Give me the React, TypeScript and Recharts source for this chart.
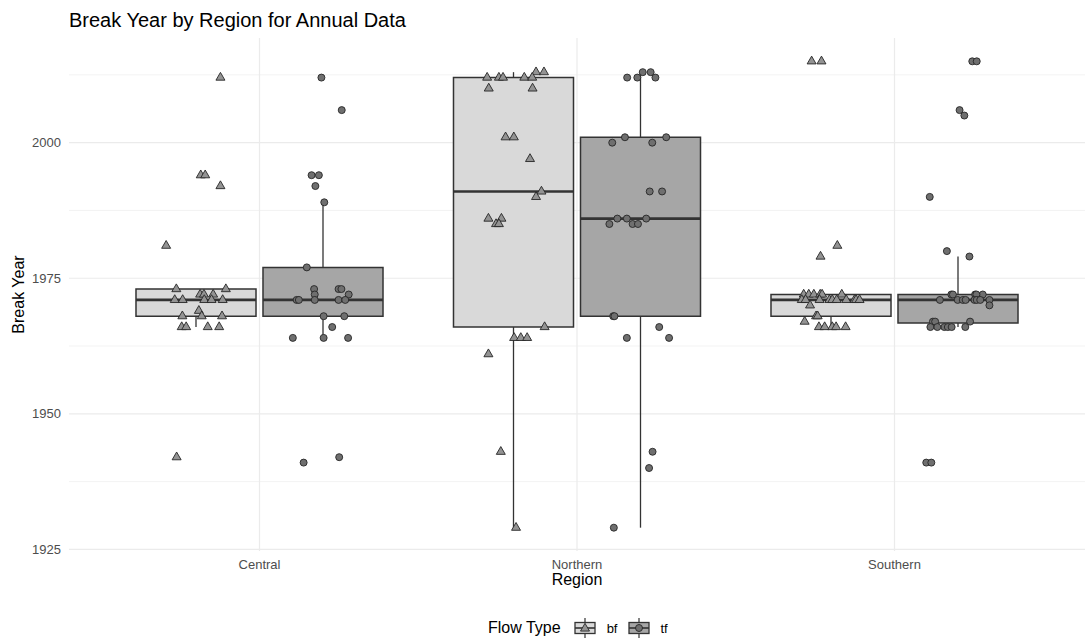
import React from "react"
import {
  ComposedChart,
  XAxis,
  YAxis,
  CartesianGrid,
  Scatter,
  ReferenceArea,
  ReferenceLine,
  Legend,
} from "recharts"

const FONT = "'Liberation Sans', Arial, Helvetica, sans-serif"

const regions = ["Central", "Northern", "Southern"]
const yTicks = [1925, 1950, 1975, 2000]
const yMinorTicks = [1937.5, 1962.5, 1987.5, 2012.5]

// break years per region / flow type, with the horizontal jitter
const centralBfYears = [2012, 1994, 1994, 1992, 1981, 1973, 1973, 1972, 1972, 1972, 1971, 1971, 1971, 1971, 1971, 1969, 1968, 1968, 1968, 1966, 1966, 1966, 1966, 1942]
const centralBfJitter = [0.077, 0.015, 0.029, 0.077, -0.094, -0.062, 0.094, 0.013, 0.025, 0.054, -0.067, -0.042, 0.026, 0.049, 0.084, 0.009, -0.043, 0.018, 0.082, -0.045, -0.031, 0.037, 0.073, -0.061]

const centralTfYears = [2012, 2006, 1994, 1994, 1992, 1989, 1977, 1973, 1973, 1973, 1972, 1972, 1971, 1971, 1971, 1971, 1971, 1968, 1968, 1966, 1964, 1964, 1964, 1942, 1941]
const centralTfJitter = [-0.005, 0.059, -0.036, -0.013, -0.024, 0.004, -0.051, -0.028, 0.049, 0.058, -0.026, 0.081, -0.083, -0.076, -0.026, 0.049, 0.07, 0.002, 0.067, 0.029, -0.095, 0.002, 0.079, 0.051, -0.061]

const northernBfYears = [2013, 2013, 2012, 2012, 2012, 2012, 2012, 2010, 2010, 2001, 2001, 1997, 1991, 1990, 1986, 1986, 1985, 1985, 1966, 1964, 1964, 1964, 1961, 1943, 1929]
const northernBfJitter = [0.071, 0.096, -0.083, -0.046, -0.033, 0.034, 0.059, -0.078, 0.06, -0.025, 0.001, 0.052, 0.088, 0.071, -0.079, -0.038, -0.055, -0.046, 0.098, 0.002, 0.023, 0.043, -0.079, -0.04, 0.008]

const northernTfYears = [2013, 2013, 2012, 2012, 2012, 2001, 2001, 2000, 2000, 1991, 1991, 1986, 1986, 1986, 1985, 1985, 1985, 1968, 1968, 1966, 1964, 1964, 1943, 1940, 1929]
const northernTfJitter = [0.007, 0.032, -0.042, -0.01, 0.047, -0.049, 0.081, -0.089, 0.037, 0.029, 0.068, -0.073, -0.043, 0.018, -0.098, -0.025, -0.008, -0.086, -0.082, 0.059, -0.043, 0.09, 0.038, 0.027, -0.084]

const southernBfYears = [2015, 2015, 1981, 1979, 1972, 1972, 1972, 1972, 1972, 1972, 1971, 1971, 1971, 1971, 1971, 1971, 1971, 1971, 1971, 1971, 1970, 1968, 1968, 1967, 1966, 1966, 1966, 1966, 1966]
const southernBfJitter = [-0.061, -0.03, 0.02, -0.033, -0.086, -0.07, -0.054, -0.034, -0.028, 0.034, -0.092, -0.08, -0.036, -0.005, 0.004, 0.018, 0.048, 0.074, 0.079, 0.09, -0.066, -0.047, -0.042, -0.083, -0.038, -0.02, 0.004, 0.016, 0.046]

const southernTfYears = [2015, 2015, 2006, 2005, 1990, 1980, 1979, 1972, 1972, 1972, 1972, 1972, 1971, 1971, 1971, 1971, 1971, 1971, 1971, 1971, 1970, 1967, 1967, 1967, 1966, 1966, 1966, 1966, 1966, 1966, 1941, 1941]
const southernTfJitter = [0.045, 0.059, 0.005, 0.02, -0.089, -0.035, 0.036, -0.021, -0.016, 0.054, 0.078, 0.058, -0.057, -0.001, 0.015, 0.052, 0.059, 0.07, 0.099, 0.024, 0.099, -0.079, -0.072, 0.038, -0.087, -0.043, -0.032, 0.023, -0.065, -0.02, -0.1, -0.084]

const BF_FILL = "#d9d9d9"
const TF_FILL = "#a6a6a6"
const EDGE = "#333333"
const DODGE = 0.2
const HALF_BOX = 0.189

const groups = [
  { region: 0, flow: "bf", years: centralBfYears, jitter: centralBfJitter },
  { region: 0, flow: "tf", years: centralTfYears, jitter: centralTfJitter },
  { region: 1, flow: "bf", years: northernBfYears, jitter: northernBfJitter },
  { region: 1, flow: "tf", years: northernTfYears, jitter: northernTfJitter },
  { region: 2, flow: "bf", years: southernBfYears, jitter: southernBfJitter },
  { region: 2, flow: "tf", years: southernTfYears, jitter: southernTfJitter },
]

function quantile(sorted: number[], p: number) {
  const pos = (sorted.length - 1) * p
  const lo = Math.floor(pos)
  const hi = Math.ceil(pos)
  return sorted[lo] + (sorted[hi] - sorted[lo]) * (pos - lo)
}

function boxStats(values: number[]) {
  const s = [...values].sort((a, b) => a - b)
  const q1 = quantile(s, 0.25)
  const med = quantile(s, 0.5)
  const q3 = quantile(s, 0.75)
  const iqr = q3 - q1
  const lo = Math.min(...s.filter((v) => v >= q1 - 1.5 * iqr))
  const hi = Math.max(...s.filter((v) => v <= q3 + 1.5 * iqr))
  return { q1, med, q3, lo, hi }
}

const center = (g: { region: number; flow: string }) => g.region + 1 + (g.flow === "bf" ? -DODGE : DODGE)

const points = (flow: string) =>
  groups
    .filter((g) => g.flow === flow)
    .flatMap((g) => g.years.map((y, i) => ({ x: center(g) + g.jitter[i], y })))

const bfPoints = points("bf")
const tfPoints = points("tf")

const allYears = groups.flatMap((g) => g.years)
const yMin = Math.min(...allYears)
const yMax = Math.max(...allYears)
const yPad = (yMax - yMin) * 0.05

const Triangle = (props: any) => {
  const { cx, cy } = props
  return (
    <polygon
      points={`${cx},${cy - 5.2} ${cx - 4.5},${cy + 2.6} ${cx + 4.5},${cy + 2.6}`}
      fill="#939393"
      stroke="#262626"
      strokeWidth={0.9}
      strokeLinejoin="round"
    />
  )
}

const Dot = (props: any) => {
  const { cx, cy } = props
  return <circle cx={cx} cy={cy} r={3.5} fill="#6f6f6f" stroke="#262626" strokeWidth={0.9} />
}

function KeyGlyph({ fill, flow }: { fill: string; flow: string }) {
  return (
    <svg width={22} height={22} style={{ display: "block" }}>
      <line x1={11} x2={11} y1={1} y2={21} stroke={EDGE} strokeWidth={1.2} />
      <rect x={1} y={5.5} width={20} height={11} fill={fill} stroke={EDGE} strokeWidth={1.3} />
      <line x1={1} x2={21} y1={11} y2={11} stroke={EDGE} strokeWidth={1.6} />
      {flow === "bf" ? <Triangle cx={11} cy={11.5} /> : <Dot cx={11} cy={11} />}
    </svg>
  )
}

function LegendContent() {
  return (
    <div
      style={{
        height: 30,
        display: "flex",
        alignItems: "center",
        paddingLeft: 488,
        fontFamily: FONT,
        color: "#000",
        transform: "translateY(2px)",
      }}
    >
      <span style={{ fontSize: 16, marginRight: 13 }}>Flow Type</span>
      <KeyGlyph fill={BF_FILL} flow="bf" />
      <span style={{ fontSize: 13, marginLeft: 11, marginRight: 11 }}>bf</span>
      <KeyGlyph fill={TF_FILL} flow="tf" />
      <span style={{ fontSize: 13, marginLeft: 10 }}>tf</span>
    </div>
  )
}

export default function App() {
  return (
    <div style={{ position: "absolute", left: 0, top: 0, width: 1086, height: 641, background: "#fff", fontFamily: FONT }}>
      <ComposedChart width={1086} height={641} margin={{ top: 38, right: 1, bottom: 0, left: 0 }}>
        <CartesianGrid horizontalValues={yMinorTicks} vertical={false} stroke="#ebebeb" strokeWidth={0.6} />
        <CartesianGrid horizontalValues={yTicks} verticalValues={[1, 2, 3]} stroke="#ebebeb" strokeWidth={1.2} />
        <XAxis
          type="number"
          dataKey="x"
          domain={[0.4, 3.6]}
          ticks={[1, 2, 3]}
          interval={0}
          allowDataOverflow
          tickFormatter={(v) => regions[v - 1]}
          axisLine={false}
          tickLine={false}
          tickSize={0}
          tickMargin={9}
          height={60}
          tick={{ fill: "#4d4d4d", fontSize: 13, fontFamily: FONT }}
          label={{
            content: ({ viewBox }: any) => (
              <text x={viewBox.x + viewBox.width / 2} y={585} textAnchor="middle" fontSize={16} fill="#000" fontFamily={FONT}>
                Region
              </text>
            ),
          }}
        />
        <YAxis
          type="number"
          dataKey="y"
          domain={[yMin - yPad, yMax + yPad]}
          ticks={yTicks}
          interval={0}
          allowDataOverflow
          axisLine={false}
          tickLine={false}
          tickSize={0}
          tickMargin={8}
          width={69}
          tick={{ fill: "#4d4d4d", fontSize: 13, fontFamily: FONT }}
          label={{
            content: ({ viewBox }: any) => {
              const cy = viewBox.y + viewBox.height / 2
              return (
                <text x={24} y={cy} transform={`rotate(-90 24 ${cy})`} textAnchor="middle" fontSize={16} fill="#000" fontFamily={FONT}>
                  Break Year
                </text>
              )
            },
          }}
        />
        {groups.map((g) => {
          const s = boxStats(g.years)
          const c = center(g)
          return (
            <React.Fragment key={`${g.region}-${g.flow}`}>
              <ReferenceLine segment={[{ x: c, y: s.q3 }, { x: c, y: s.hi }]} stroke={EDGE} strokeWidth={1.3} />
              <ReferenceLine segment={[{ x: c, y: s.lo }, { x: c, y: s.q1 }]} stroke={EDGE} strokeWidth={1.3} />
              <ReferenceArea
                x1={c - HALF_BOX}
                x2={c + HALF_BOX}
                y1={s.q1}
                y2={s.q3}
                fill={g.flow === "bf" ? BF_FILL : TF_FILL}
                fillOpacity={1}
                stroke={EDGE}
                strokeWidth={1.5}
                ifOverflow="visible"
              />
              <ReferenceLine
                segment={[{ x: c - HALF_BOX, y: s.med }, { x: c + HALF_BOX, y: s.med }]}
                stroke={EDGE}
                strokeWidth={2.6}
              />
            </React.Fragment>
          )
        })}
        <Scatter data={bfPoints} shape={Triangle} isAnimationActive={false} />
        <Scatter data={tfPoints} shape={Dot} isAnimationActive={false} />
        <Legend verticalAlign="bottom" align="left" wrapperStyle={{ left: 0, width: 1086 }} content={() => <LegendContent />} />
      </ComposedChart>
      <div style={{ position: "absolute", left: 69, top: 9, fontSize: 20, lineHeight: "normal", color: "#000", whiteSpace: "nowrap" }}>
        Break Year by Region for Annual Data
      </div>
    </div>
  )
}
